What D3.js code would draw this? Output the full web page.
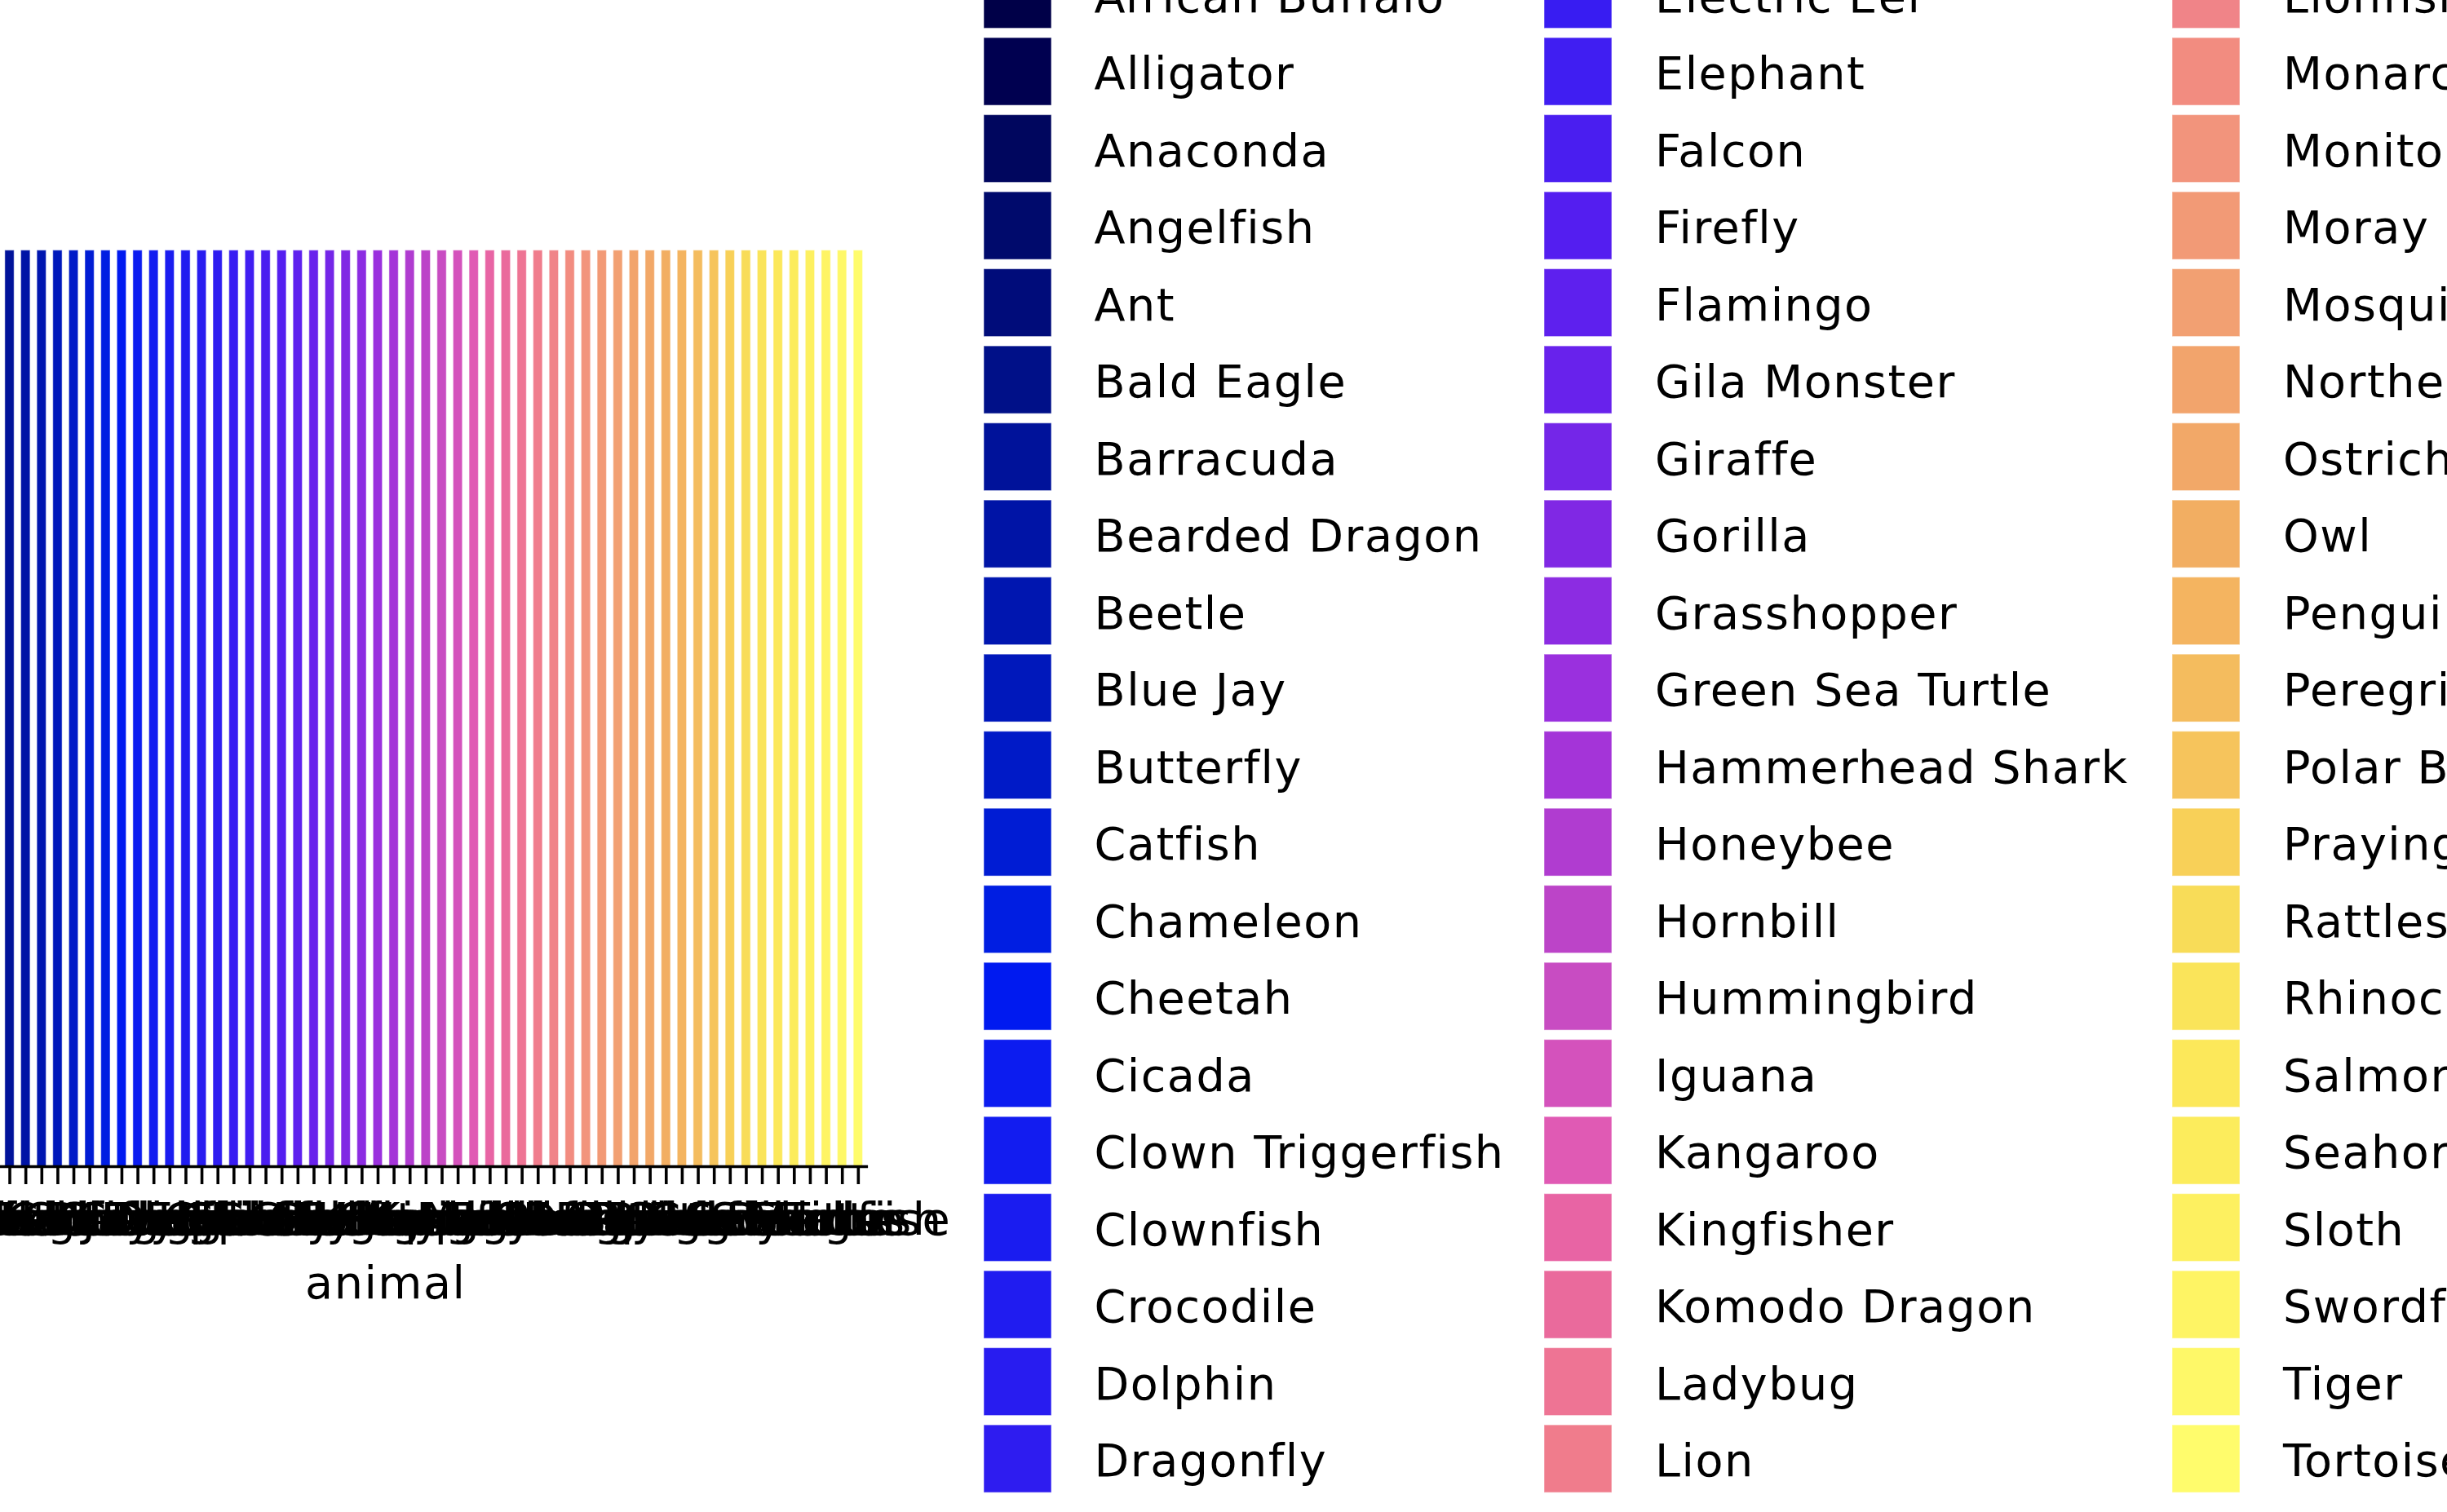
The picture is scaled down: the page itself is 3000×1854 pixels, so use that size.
<!DOCTYPE html>
<html>
<head>
<meta charset="utf-8">
<script src="https://cdn.jsdelivr.net/npm/d3@7"></script>
<style>
  html, body { margin: 0; padding: 0; background: #fff; }
  svg { display: block; overflow: hidden; }
  text { font-family: "DejaVu Sans", sans-serif; }
</style>
</head>
<body>
<svg id="chart" width="3000" height="1854"></svg>
<script>
// ---- data ----
const animals = [
  "African Buffalo","Alligator","Anaconda","Angelfish","Ant","Bald Eagle","Barracuda","Bearded Dragon","Beetle","Blue Jay",
  "Butterfly","Catfish","Chameleon","Cheetah","Cicada","Clown Triggerfish","Clownfish","Crocodile","Dolphin","Dragonfly",
  "Electric Eel","Elephant","Falcon","Firefly","Flamingo","Gila Monster","Giraffe","Gorilla","Grasshopper","Green Sea Turtle",
  "Hammerhead Shark","Honeybee","Hornbill","Hummingbird","Iguana","Kangaroo","Kingfisher","Komodo Dragon","Ladybug","Lion",
  "Lionfish","Monarch Butterfly","Monitor Lizard","Moray Eel","Mosquito","Northern Cardinal","Ostrich","Owl","Penguin","Peregrine Falcon",
  "Polar Bear","Praying Mantis","Rattlesnake","Rhinoceros","Salmon","Seahorse","Sloth","Swordfish","Tiger","Tortoise"
];
const counts = [
  1,1,1,1,1,1,1,1,1,1, 1,1,1,1,1,1,1,1,1,1,
  1,1,1,1,1,1,1,1,1,1, 1,1,1,1,1,1,1,1,1,1,
  1,1,1,1,1,1,1,1,1,1, 1,1,1,1,1,1,1,1,1,1
];
const colors = [
  "#000048","#000050","#00065e","#000a6c","#000c7a","#001088","#00129a","#0014a6","#0016b0","#0018bb",
  "#001ac7","#001cd4","#001ee2","#001af0","#0c1cf0","#121cf0","#1a1cf0","#201cf0","#281cf0","#2e1cf0",
  "#381cf2","#401ef2","#4a1ef0","#541ef0","#5e20ee","#6822ec","#7426e8","#8028e4","#8c2ce2","#9a30de",
  "#a434d8","#b03cd0","#bc44c8","#c84cc2","#d452bc","#e05ab4","#e864a4","#ea6a9c","#ee7494","#f07c8c",
  "#f08488","#f28c80","#f2947c","#f29a76","#f2a072","#f2a46c","#f2a868","#f2ae62","#f4b460","#f4bc5e",
  "#f6c45c","#f8d058","#f8dc58","#fae45a","#fce85a","#fcec5c","#fdf060","#fef464","#fef868","#fffc6c"
];
const xLabel = "animal";

// ---- layout ----
const FS = 55.6;
const LS = "1.5px";
const svg = d3.select("#chart");
const axisY = 1430;
const x = d3.scalePoint().domain(animals).range([-118, 1063.6]).padding(0.6);
const step = x.step();
const barW = step * 0.58;
const y = d3.scaleLinear().domain([0, 1.05]).range([axisY, 250.5]);
const color = d3.scaleOrdinal().domain(animals).range(colors);

const data = animals.map((a, i) => ({animal: a, count: counts[i]}));

// bars
svg.append("g").selectAll("rect").data(data).join("rect")
  .attr("x", d => x(d.animal) - barW / 2)
  .attr("y", d => y(d.count))
  .attr("width", barW)
  .attr("height", d => y(0) - y(d.count))
  .attr("fill", d => color(d.animal))
  .attr("stroke", "#ffffff")
  .attr("stroke-opacity", 0.45)
  .attr("stroke-width", 1.2);

// x axis
const gx = svg.append("g").attr("transform", `translate(0,${axisY})`)
  .call(d3.axisBottom(x).tickSizeOuter(0).tickSizeInner(22).tickPadding(0));
gx.select(".domain").attr("stroke", "#000").attr("stroke-width", 3.4);
gx.selectAll(".tick line").attr("stroke", "#000").attr("stroke-width", 3.6);
gx.selectAll(".tick text")
  .attr("y", 84).attr("dy", null)
  .attr("fill", "#000")
  .style("font-family", "'DejaVu Sans', sans-serif")
  .style("font-size", FS + "px")
  .style("letter-spacing", LS);

svg.append("text")
  .attr("x", (x.range()[0] + x.range()[1]) / 2)
  .attr("y", 1592)
  .attr("text-anchor", "middle")
  .style("font-size", FS + "px")
  .style("letter-spacing", LS)
  .text(xLabel);

// legend
const nRows = 20;
const colSwatchX = [1206, 1893, 2663];
const colTextX = [1341.5, 2029, 2799];
const rowTop0 = -48.4, rowPitch = 94.5, sw = 83;
const lg = svg.append("g");
const items = lg.selectAll("g").data(data).join("g")
  .attr("transform", (d, i) => `translate(0,${rowTop0 + (i % nRows) * rowPitch})`);
items.append("rect")
  .attr("x", (d, i) => colSwatchX[Math.floor(i / nRows)])
  .attr("y", 0)
  .attr("width", sw).attr("height", sw)
  .attr("fill", d => color(d.animal))
  .attr("stroke", "#ffffff")
  .attr("stroke-opacity", 0.45)
  .attr("stroke-width", 1.2);
items.append("text")
  .attr("x", (d, i) => colTextX[Math.floor(i / nRows)])
  .attr("y", 63)
  .style("font-size", FS + "px")
  .style("letter-spacing", LS)
  .attr("fill", "#000")
  .text(d => d.animal);
</script>
</body>
</html>
